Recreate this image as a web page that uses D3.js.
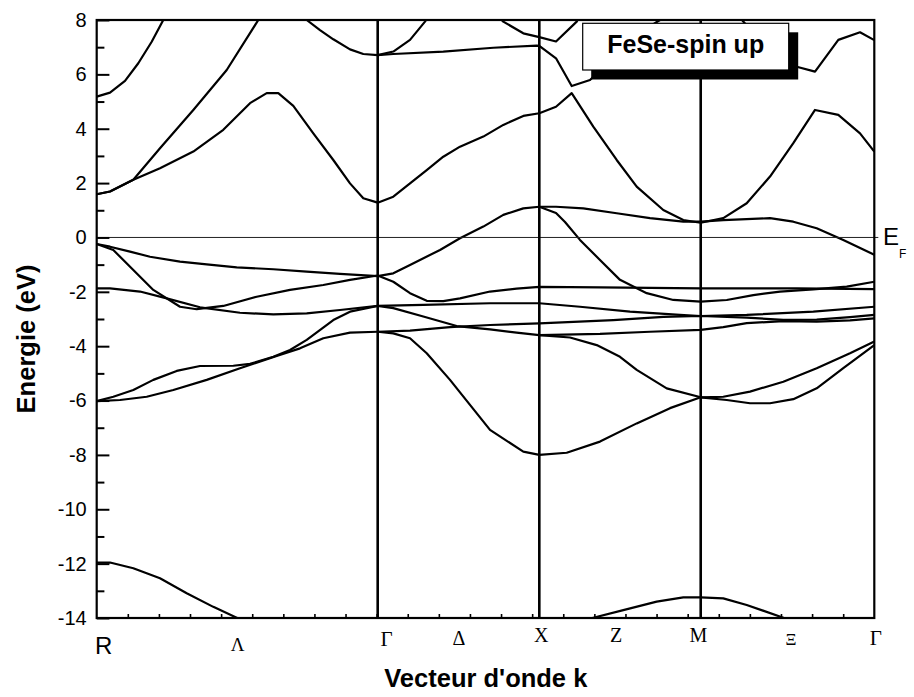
<!DOCTYPE html>
<html>
<head>
<meta charset="utf-8">
<script src="https://cdn.jsdelivr.net/npm/d3@7"></script>
<style>
  html, body { margin: 0; padding: 0; background: #fff; }
  svg { display: block; }
</style>
</head>
<body>
<svg id="chart" width="914" height="697"></svg>
<script>
// FeSe band structure (spin up), energies in eV relative to E_F

// high-symmetry points along the k path
const symLabels = ["R", "Λ", "Γ", "Δ", "X", "Z", "M", "Ξ", "Γ"];
const symPositions = [0, 0.4517, 0.9034, 1.1632, 1.423, 1.6825, 1.9419, 2.221, 2.5];
const symLines = [0.9034, 1.423, 1.9419];

const energyTicks = [8, 6, 4, 2, 0, -2, -4, -6, -8, -10, -12, -14];
const energyMinorTicks = [7, 5, 3, 1, -1, -3, -5, -7, -9, -11, -13];
const kMinorTicks = d3.range(1, 25).map(i => i / 10);

// bands: [k, E]
const bandHighR = [[0,5.18],[0.0428,5.33],[0.091,5.76],[0.1337,6.41],[0.1768,7.2],[0.2141,8.0],[0.245,8.7]];
const bandSteep = [[0,1.59],[0.0428,1.69],[0.1177,2.12],[0.2035,3.28],[0.3106,4.69],[0.418,6.16],[0.5196,8.0],[0.545,8.6]];
const bandPeakL = [[0,1.59],[0.0428,1.69],[0.1177,2.12],[0.2035,2.55],[0.3106,3.16],[0.407,3.96],[0.4929,4.94],[0.5466,5.31],[0.5838,5.31],[0.6321,4.84],[0.6964,3.83],[0.7607,2.85],[0.8144,1.99],[0.8571,1.44],[0.9034,1.28]];
const bandCond = [[0.9034,1.28],[0.9536,1.5],[1.0073,1.99],[1.061,2.48],[1.1143,2.97],[1.168,3.34],[1.2429,3.71],[1.3072,4.14],[1.3715,4.47],[1.423,4.57],[1.4767,4.81],[1.5271,5.31],[1.5966,4.08],[1.6718,2.85],[1.7361,1.87],[1.8216,1.01],[1.8859,0.64],[1.9419,0.54],[2.0145,0.71],[2.0898,1.26],[2.1647,2.24],[2.2396,3.47],[2.3094,4.69],[2.3843,4.51],[2.4541,3.83],[2.5,3.16]];
const bandTopL = [[0.62,8.5],[0.6752,8.0],[0.7179,7.63],[0.7607,7.29],[0.8144,6.92],[0.8571,6.75],[0.9034,6.71]];
const bandTopG = [[0.9034,6.71],[0.9536,6.84],[1.0073,7.27],[1.0555,7.94],[1.08,8.4]];
const bandFlatTop = [[0.9034,6.71],[0.9536,6.75],[1.1143,6.84],[1.2751,6.98],[1.4146,7.06],[1.423,7.05],[1.4767,6.59],[1.5271,5.57],[1.586,5.79],[1.66,6.6],[1.74,7.5],[1.811,8.0],[1.85,8.4]];
const bandTopR = [[2.03,8.4],[2.0746,8.0],[2.15,7.0],[2.2,6.5],[2.2506,6.28],[2.3094,6.1],[2.3843,7.27],[2.4541,7.55],[2.5,7.26]];
const bandTopX = [[1.27,8.4],[1.3072,7.94],[1.3715,7.51],[1.423,7.37],[1.4767,7.21],[1.5432,7.94],[1.56,8.3]];
const bandFermi = [[0,-0.24],[0.0428,-0.34],[0.1071,-0.52],[0.1714,-0.71],[0.2678,-0.89],[0.3537,-0.99],[0.4501,-1.1],[0.5678,-1.17],[0.6752,-1.26],[0.7822,-1.34],[0.9034,-1.42],[0.9536,-1.32],[1.0073,-1.01],[1.1037,-0.46],[1.168,-0.03],[1.2429,0.4],[1.3072,0.83],[1.3715,1.07],[1.423,1.13],[1.4767,1.13],[1.5644,1.07],[1.6718,0.89],[1.7789,0.71],[1.8859,0.58],[1.9419,0.58],[2.0145,0.64],[2.1647,0.71],[2.2396,0.58],[2.3148,0.34],[2.4003,-0.09],[2.5,-0.64]];
const bandValence1 = [[0,-0.24],[0.0534,-0.46],[0.1177,-1.2],[0.182,-1.93],[0.2678,-2.55],[0.3215,-2.64],[0.407,-2.52],[0.5144,-2.18],[0.6215,-1.93],[0.7285,-1.75],[0.8144,-1.56],[0.9034,-1.4],[0.9536,-1.63],[1.0073,-2.05],[1.061,-2.33],[1.1143,-2.34],[1.168,-2.24],[1.2645,-1.99],[1.35,-1.88],[1.423,-1.82],[1.6181,-1.84],[1.9419,-1.87],[2.25,-1.87],[2.5,-1.9]];
const bandXM = [[1.423,1.13],[1.4767,0.9],[1.5056,0.57],[1.5538,-0.09],[1.6181,-0.83],[1.6824,-1.56],[1.7683,-2.05],[1.8538,-2.3],[1.9419,-2.36],[2.0255,-2.3],[2.111,-2.12],[2.1969,-1.99],[2.3039,-1.91],[2.4113,-1.81],[2.5,-1.63]];
const bandValence2 = [[0,-1.87],[0.0428,-1.87],[0.1392,-1.99],[0.2251,-2.24],[0.3321,-2.57],[0.4607,-2.77],[0.5678,-2.83],[0.6752,-2.79],[0.7822,-2.67],[0.9034,-2.52],[1.05,-2.48],[1.2645,-2.42],[1.423,-2.42],[1.5538,-2.55],[1.7146,-2.73],[1.8753,-2.85],[1.9419,-2.89],[2.0898,-2.85],[2.3039,-2.73],[2.5,-2.55]];
const bandD1 = [[0,-6.02],[0.0534,-5.86],[0.1177,-5.61],[0.182,-5.24],[0.2572,-4.91],[0.3321,-4.73],[0.4392,-4.72],[0.4929,-4.65],[0.5678,-4.39],[0.6215,-4.14],[0.6752,-3.77],[0.7607,-3.04],[0.8144,-2.73],[0.9034,-2.52],[0.9536,-2.6],[1.05,-2.91],[1.1574,-3.26],[1.2645,-3.38],[1.35,-3.5],[1.423,-3.59],[1.5217,-3.68],[1.6075,-3.96],[1.6824,-4.39],[1.7361,-4.87],[1.8326,-5.55],[1.9419,-5.88],[2.0145,-5.86],[2.1004,-5.67],[2.2075,-5.31],[2.3148,-4.81],[2.4219,-4.26],[2.5,-3.83]];
const bandD2 = [[0,-6.02],[0.0749,-5.98],[0.1608,-5.86],[0.2463,-5.61],[0.3537,-5.24],[0.4607,-4.81],[0.5787,-4.36],[0.6536,-4.08],[0.7285,-3.71],[0.8144,-3.5],[0.9034,-3.47],[1.0073,-3.43],[1.1359,-3.3],[1.2645,-3.22],[1.423,-3.16],[1.6609,-3.04],[1.8216,-2.92],[1.9419,-2.89],[2.0898,-2.95],[2.2075,-3.03],[2.3148,-3.02],[2.4219,-2.93],[2.5,-2.85]];
const bandD3 = [[1.423,-3.59],[1.6181,-3.55],[1.7789,-3.47],[1.9419,-3.4],[2.0145,-3.3],[2.0898,-3.15],[2.2075,-3.08],[2.3148,-3.1],[2.4219,-3.05],[2.5,-2.98]];
const bandDeep = [[0.9034,-3.47],[0.9536,-3.53],[1.0073,-3.71],[1.061,-4.26],[1.1359,-5.24],[1.168,-5.7],[1.2645,-7.08],[1.3715,-7.88],[1.423,-8.0],[1.511,-7.92],[1.6181,-7.51],[1.7361,-6.84],[1.8432,-6.28],[1.9419,-5.88],[2.0255,-5.98],[2.1004,-6.1],[2.1647,-6.1],[2.2396,-5.95],[2.3148,-5.55],[2.4003,-4.81],[2.5,-3.96]];
const bandSemiCoreL = [[0,-11.96],[0.0428,-11.96],[0.1177,-12.17],[0.2035,-12.54],[0.2894,-13.09],[0.3749,-13.59],[0.4501,-13.99],[0.52,-14.4]];
const bandSemiCoreR = [[1.5,-14.5],[1.5966,-13.99],[1.693,-13.71],[1.8004,-13.4],[1.8859,-13.24],[1.9419,-13.24],[2.0145,-13.28],[2.0898,-13.52],[2.2075,-13.99],[2.27,-14.4]];

const bands = [bandHighR, bandSteep, bandPeakL, bandCond, bandTopL, bandTopG, bandFlatTop, bandTopR, bandTopX,
  bandFermi, bandValence1, bandXM, bandValence2, bandD1, bandD2, bandD3, bandDeep, bandSemiCoreL, bandSemiCoreR];

const legendText = "FeSe-spin up";
const xTitle = "Vecteur d'onde k";
const yTitle = "Energie (eV)";

// ---- layout ----
const plot = { left: 96.7, right: 874.3, top: 20, bottom: 618 };
const svg = d3.select("#chart");

const x = d3.scaleLinear().domain([0, 2.5]).range([plot.left, plot.right]);
const y = d3.scaleLinear().domain([-14, 8]).range([plot.bottom, plot.top]);

svg.append("defs").append("clipPath").attr("id", "plotClip")
  .append("rect")
  .attr("x", plot.left).attr("y", plot.top)
  .attr("width", plot.right - plot.left).attr("height", plot.bottom - plot.top);

// band lines
const line = d3.line().x(d => x(d[0])).y(d => y(d[1]));
svg.append("g").attr("clip-path", "url(#plotClip)")
  .selectAll("path").data(bands).join("path")
  .attr("d", line)
  .attr("fill", "none")
  .attr("stroke", "#000")
  .attr("stroke-width", 2.2)
  .attr("stroke-linejoin", "round");

// Fermi level
svg.append("line")
  .attr("x1", plot.left).attr("x2", plot.right + 4)
  .attr("y1", y(0)).attr("y2", y(0))
  .attr("stroke", "#222").attr("stroke-width", 1);

// high-symmetry verticals
svg.append("g").selectAll("line").data(symLines).join("line")
  .attr("x1", d => x(d)).attr("x2", d => x(d))
  .attr("y1", plot.top).attr("y2", plot.bottom)
  .attr("stroke", "#000").attr("stroke-width", 2.6);

// y axis: major (labelled) and minor ticks, pointing inward
const yAxisMajor = d3.axisLeft(y).tickValues(energyTicks).tickSize(-12.7).tickPadding(10)
  .tickFormat(d => String(d));
const gy = svg.append("g").attr("transform", `translate(${plot.left},0)`).call(yAxisMajor);
gy.select(".domain").remove();
gy.selectAll(".tick line").attr("stroke", "#000").attr("stroke-width", 2);
gy.selectAll(".tick text")
  .attr("font-family", "'Liberation Sans', Arial, sans-serif")
  .attr("font-size", 20).attr("fill", "#000");

const yAxisMinor = d3.axisLeft(y).tickValues(energyMinorTicks).tickSize(-7.7).tickFormat("");
const gym = svg.append("g").attr("transform", `translate(${plot.left},0)`).call(yAxisMinor);
gym.select(".domain").remove();
gym.selectAll(".tick line").attr("stroke", "#000").attr("stroke-width", 2);

// x axis minor ticks along the bottom
const xAxisMinor = d3.axisBottom(x).tickValues(kMinorTicks).tickSize(-4).tickFormat("");
const gx = svg.append("g").attr("transform", `translate(0,${plot.bottom})`).call(xAxisMinor);
gx.select(".domain").remove();
gx.selectAll(".tick line").attr("stroke", "#000").attr("stroke-width", 1.6);

// frame
svg.append("rect")
  .attr("x", plot.left).attr("y", plot.top)
  .attr("width", plot.right - plot.left).attr("height", plot.bottom - plot.top)
  .attr("fill", "none").attr("stroke", "#000").attr("stroke-width", 2.2);

// symmetry-point labels
const labelStyle = {
  0: { dx: -1.7, base: 654, size: 24, family: "'Liberation Sans', Arial, sans-serif", anchor: "start" },
  1: { dx: 0.5, base: 651, size: 19 },
  2: { dx: 9, base: 646, size: 21 },
  3: { dx: 0.5, base: 645, size: 20 },
  4: { dx: 2, base: 642, size: 20 },
  5: { dx: -4, base: 642, size: 20 },
  6: { dx: -2.4, base: 642, size: 20 },
  7: { dx: 3.5, base: 645, size: 17 },
  8: { dx: 1.5, base: 645, size: 21 }
};
svg.append("g").selectAll("text").data(symLabels).join("text")
  .attr("x", (d, i) => x(symPositions[i]) + labelStyle[i].dx)
  .attr("y", (d, i) => labelStyle[i].base)
  .attr("text-anchor", (d, i) => labelStyle[i].anchor || "middle")
  .attr("font-family", (d, i) => labelStyle[i].family || "'Liberation Serif', 'Times New Roman', serif")
  .attr("font-size", (d, i) => labelStyle[i].size)
  .attr("fill", "#000")
  .text(d => d);

// E_F marker: E with a subscript F set below and to its right
svg.append("text")
  .attr("x", 883).attr("y", 245)
  .attr("font-family", "'Liberation Sans', Arial, sans-serif")
  .attr("font-size", 24).attr("fill", "#000")
  .text("E");
svg.append("text")
  .attr("x", 899).attr("y", 258)
  .attr("font-family", "'Liberation Sans', Arial, sans-serif")
  .attr("font-size", 12).attr("fill", "#000")
  .text("F");

// axis titles
svg.append("text")
  .attr("x", 485.8).attr("y", 687)
  .attr("text-anchor", "middle")
  .attr("font-family", "'Liberation Sans', Arial, sans-serif")
  .attr("font-weight", "bold").attr("font-size", 25.5).attr("fill", "#000")
  .text(xTitle);

svg.append("text")
  .attr("transform", "translate(35,339) rotate(-90)")
  .attr("text-anchor", "middle")
  .attr("font-family", "'Liberation Sans', Arial, sans-serif")
  .attr("font-weight", "bold").attr("font-size", 25.5).attr("fill", "#000")
  .text(yTitle);

// legend box with drop shadow
const legend = { x: 582.7, y: 23.3, w: 206, h: 46.7 };
svg.append("rect")
  .attr("x", legend.x + 8.5).attr("y", legend.y + 9)
  .attr("width", legend.w + 1).attr("height", legend.h + 0.5)
  .attr("fill", "#000");
svg.append("rect")
  .attr("x", legend.x).attr("y", legend.y)
  .attr("width", legend.w).attr("height", legend.h)
  .attr("fill", "#fff").attr("stroke", "#000").attr("stroke-width", 1.2);
svg.append("text")
  .attr("x", legend.x + legend.w / 2).attr("y", 53.3)
  .attr("text-anchor", "middle")
  .attr("font-family", "'Liberation Sans', Arial, sans-serif")
  .attr("font-weight", "bold").attr("font-size", 25).attr("fill", "#000")
  .text(legendText);
</script>
</body>
</html>
